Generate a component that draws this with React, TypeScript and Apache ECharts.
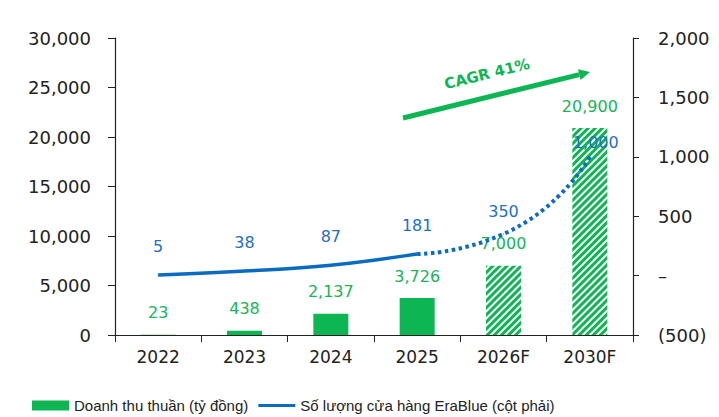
import { useEffect, useRef } from "react";
import * as echarts from "echarts";

// Fiscal years on the category axis
const years = ["2022", "2023", "2024", "2025", "2026F", "2030F"];
// Net revenue, billion VND (left axis)
const revenue = [23, 438, 2137, 3726, 7000, 20900];
// EraBlue store count (right axis)
const stores = [5, 38, 87, 181, 350, 1000];
// Index of the first forecast year
const firstForecast = 4;

const leftTicks = { min: 0, max: 30000, interval: 5000 };
const rightTicks = { min: -500, max: 2000, interval: 500 };
const cagrText = "CAGR 41%";
const revenueName = "Doanh thu thuần (tỷ đồng)";
const storesName = "Số lượng cửa hàng EraBlue (cột phải)";

const GREEN = "#0DB652";
const GREEN_TEXT = "#18B457";
const BLUE = "#0B6BC0";
const BLUE_TEXT = "#1F6FC2";
const INK = "#222222";
const FONT = "DejaVu Sans";
const LEGEND_FONT = "Liberation Sans";

const fmt = (v: number) => v.toLocaleString("en-US");

export default function App() {
  const ref = useRef<HTMLDivElement>(null);

  useEffect(() => {
    if (!ref.current) return;
    document.body.style.margin = "0";
    const chart = echarts.init(ref.current, undefined, { renderer: "svg" });

    const barData = revenue.map((v, i) =>
      i >= firstForecast
        ? {
            value: v,
            itemStyle: {
              color: "#ffffff",
              decal: {
                symbol: "rect",
                symbolSize: 1,
                color: GREEN,
                dashArrayX: [1, 0],
                dashArrayY: [2.4, 1.8],
                rotation: -Math.PI / 4,
              },
            },
          }
        : v
    );

    const actualStores = stores.map((v, i) => (i < firstForecast ? v : null));
    const forecastStores = stores.map((v, i) => {
      if (i < firstForecast - 1) return null;
      if (i === firstForecast - 1) return { value: v, label: { show: false } };
      if (i === stores.length - 1)
        return { value: v, label: { distance: 6, offset: [6, 0] } };
      return { value: v, label: { distance: 14 } };
    });

    const storeLabel = {
      show: true,
      position: "top",
      distance: 20,
      color: BLUE_TEXT,
      fontSize: 16,
      fontFamily: FONT,
      formatter: (p: any) => fmt(p.value),
    };

    // CAGR arrow geometry
    const tail = [403, 118];
    const tip = [590, 72];
    const dx = tip[0] - tail[0];
    const dy = tip[1] - tail[1];
    const len = Math.hypot(dx, dy);
    const ux = dx / len;
    const uy = dy / len;
    const headLen = 11;
    const headHalf = 5.5;
    const base = [tip[0] - ux * headLen, tip[1] - uy * headLen];
    const nx = -uy;
    const ny = ux;

    chart.setOption({
      animation: false,
      textStyle: { fontFamily: FONT },
      grid: { left: 115, right: 86, top: 38, bottom: 82 },
      legend: {
        left: 27,
        top: 393,
        itemGap: 10,
        itemWidth: 37,
        itemHeight: 10,
        textStyle: { fontFamily: LEGEND_FONT, fontSize: 15, color: INK },
        data: [
          { name: revenueName, icon: "rect" },
          { name: storesName, icon: "path://M0,0H40V3.2H0Z" },
        ],
      },
      xAxis: {
        type: "category",
        data: years,
        axisLine: { lineStyle: { color: INK, width: 1.2 } },
        axisTick: { show: true, length: 7, lineStyle: { color: INK } },
        axisLabel: { color: INK, fontSize: 17, margin: 13, fontFamily: FONT },
      },
      yAxis: [
        {
          type: "value",
          ...leftTicks,
          splitLine: { show: false },
          axisLine: { show: true, lineStyle: { color: INK, width: 1.2 } },
          axisTick: { show: true, length: 7, lineStyle: { color: INK } },
          axisLabel: {
            color: INK,
            fontSize: 18,
            margin: 24,
            fontFamily: FONT,
            formatter: (v: number) => fmt(v),
          },
        },
        {
          type: "value",
          ...rightTicks,
          splitLine: { show: false },
          axisLine: { show: true, lineStyle: { color: INK, width: 1.2 } },
          axisTick: { show: true, length: 6, lineStyle: { color: INK } },
          axisLabel: {
            color: INK,
            fontSize: 18,
            margin: 25,
            fontFamily: FONT,
            formatter: (v: number) =>
              v === 0 ? "–" : v < 0 ? `(${fmt(-v)})` : fmt(v),
          },
        },
      ],
      series: [
        {
          name: revenueName,
          type: "bar",
          yAxisIndex: 0,
          barWidth: 35,
          itemStyle: { color: GREEN },
          data: barData,
          label: {
            show: true,
            position: "top",
            distance: 14,
            color: GREEN_TEXT,
            fontSize: 16,
            fontFamily: FONT,
            formatter: (p: any) => fmt(p.value),
          },
          z: 2,
        },
        {
          name: storesName,
          type: "line",
          yAxisIndex: 1,
          smooth: 0.4,
          symbol: "circle",
          symbolSize: 1,
          showSymbol: true,
          lineStyle: { color: BLUE, width: 3.5 },
          itemStyle: { color: BLUE },
          data: actualStores,
          label: storeLabel,
          z: 3,
        },
        {
          name: "forecast-stores",
          type: "line",
          yAxisIndex: 1,
          smooth: 0.6,
          symbol: "circle",
          symbolSize: 1,
          showSymbol: true,
          lineStyle: { color: BLUE, width: 4, type: [3.5, 3.5] },
          itemStyle: { color: BLUE },
          data: forecastStores,
          label: storeLabel,
          z: 3,
        },
      ],
      graphic: [
        {
          type: "line",
          shape: { x1: tail[0], y1: tail[1], x2: base[0], y2: base[1] },
          style: { stroke: GREEN, lineWidth: 5 },
          z: 10,
        },
        {
          type: "polygon",
          shape: {
            points: [
              tip,
              [base[0] + nx * headHalf, base[1] + ny * headHalf],
              [base[0] - nx * headHalf, base[1] - ny * headHalf],
            ],
          },
          style: { fill: GREEN },
          z: 10,
        },
        {
          type: "text",
          x: 487,
          y: 74,
          rotation: Math.atan2(-dy, dx),
          style: {
            text: cagrText,
            fill: GREEN,
            font: `bold 15px "${FONT}"`,
            align: "center",
            verticalAlign: "middle",
          },
          z: 10,
        },
      ],
    });

    return () => chart.dispose();
  }, []);

  return <div ref={ref} style={{ width: 719, height: 417 }} />;
}
